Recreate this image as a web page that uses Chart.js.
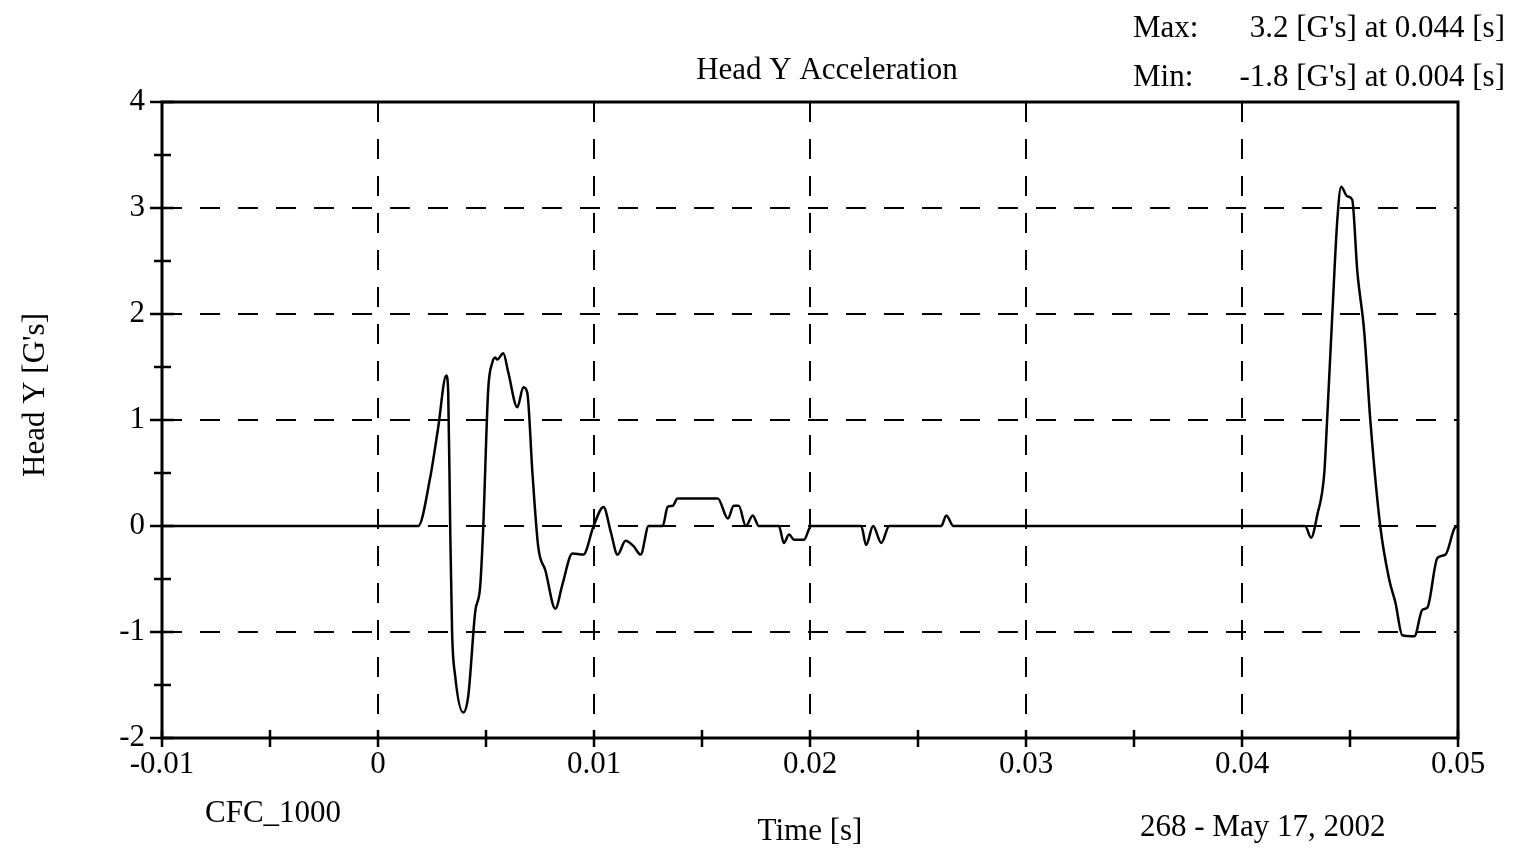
<!DOCTYPE html>
<html lang="en">
<head>
    <meta charset="UTF-8">
    <title>Head Y Acceleration</title>
    <script src="https://cdn.jsdelivr.net/npm/chart.js"></script>
    <style>
        body { margin: 0; background: #fff; }
        #wrap { width: 1525px; height: 851px; position: relative; }
    </style>
</head>
<body>
    <div id="wrap"><canvas id="headChart"></canvas></div>

    <script>
        // time in ms, acceleration in G's
        var timeMs = [-10, 1.86, 2.41, 2.78, 3.16, 3.25, 3.34, 3.43, 3.57, 3.94, 4.18, 4.5, 4.73, 4.87,
            5.1, 5.29, 5.43, 5.52, 5.8, 6.03, 6.45, 6.73, 6.91, 7.15, 7.42, 7.75, 8.21, 8.54, 9.0, 9.51,
            9.98, 10.44, 10.77, 11.09, 11.46, 11.83, 12.16, 12.53, 13.18, 13.41, 13.64, 13.87, 15.73,
            16.2, 16.47, 16.7, 17.03, 17.35, 17.63, 18.56, 18.79, 19.03, 19.26, 19.72, 20.05, 22.37,
            22.6, 22.92, 23.3, 23.67, 26.08, 26.31, 26.64, 42.92, 43.2, 43.48, 43.81, 43.94, 44.18,
            44.41, 44.59, 44.87, 45.1, 45.34, 45.66, 45.94, 46.4, 46.82, 47.1, 47.42, 47.98, 48.35,
            48.58, 49.05, 49.42, 49.84, 50.0];
        var accelG = [0, 0, 0.45, 0.92, 1.42, 1.27, 0.02, -1.0, -1.41, -1.76, -1.6, -0.81, -0.57, -0.02,
            1.28, 1.54, 1.59, 1.57, 1.63, 1.45, 1.12, 1.31, 1.26, 0.5, -0.2, -0.42, -0.78, -0.55, -0.26, -0.27,
            0, 0.18, -0.05, -0.27, -0.14, -0.19, -0.27, 0, 0, 0.18, 0.19, 0.26, 0.26,
            0.07, 0.19, 0.19, 0, 0.1, 0, 0, -0.16, -0.08, -0.13, -0.13, 0, 0,
            -0.18, 0, -0.16, 0, 0, 0.1, 0, 0, -0.11, 0.1, 0.5, 1.0, 1.99,
            2.88, 3.2, 3.11, 3.08, 2.4, 1.83, 1.0, 0, -0.51, -0.72, -1.03, -1.04, -0.79,
            -0.77, -0.3, -0.27, -0.02, 0];

        var xTicks = [-0.01, 0, 0.01, 0.02, 0.03, 0.04, 0.05];
        var yTicks = [-2, -1, 0, 1, 2, 3, 4];

        var chartTitle = 'Head Y Acceleration';
        var maxLine = ['Max:', "3.2 [G's] at 0.044 [s]"];
        var minLine = ['Min:', "-1.8 [G's] at 0.004 [s]"];
        var filterText = 'CFC_1000';
        var testText = '268 - May 17, 2002';
        var xTitle = 'Time [s]';
        var yTitle = "Head Y [G's]";

        var FONT = '31px "Liberation Serif", "Times New Roman", serif';

        var points = timeMs.map(function (t, i) { return { x: t / 1000, y: accelG[i] }; });

        // frame, crossing tick marks and the loose texts
        var decor = {
            id: 'decor',
            afterDraw: function (chart) {
                var c = chart.ctx, a = chart.chartArea;
                var xs = chart.scales.x, ys = chart.scales.y;
                c.save();
                c.strokeStyle = '#000';
                c.lineWidth = 3;
                c.strokeRect(a.left, a.top, a.right - a.left, a.bottom - a.top);

                c.lineWidth = 2.5;
                c.beginPath();
                for (var v = -0.01; v <= 0.0501; v += 0.005) {
                    var px = xs.getPixelForValue(v);
                    c.moveTo(px, a.bottom - 8);
                    c.lineTo(px, a.bottom + 9);
                }
                for (var w = -2; w <= 4.01; w += 0.5) {
                    var py = ys.getPixelForValue(w);
                    var major = Math.abs(w - Math.round(w)) < 1e-6;
                    c.moveTo(a.left - (major ? 12 : 8), py);
                    c.lineTo(a.left + (major ? 12 : 9), py);
                }
                c.stroke();

                c.fillStyle = '#000';
                c.font = FONT;
                c.textBaseline = 'alphabetic';
                c.textAlign = 'center';
                c.fillText(chartTitle, 827, 79);
                c.fillText(xTitle, 810, 840);
                c.textAlign = 'left';
                c.fillText(maxLine[0], 1133, 37);
                c.fillText(minLine[0], 1133, 86);
                c.fillText(filterText, 205, 822);
                c.fillText(testText, 1140, 836);
                c.textAlign = 'right';
                c.fillText(maxLine[1], 1505, 37);
                c.fillText(minLine[1], 1505, 86);

                c.translate(36, 395);
                c.rotate(-Math.PI / 2);
                c.textAlign = 'center';
                c.textBaseline = 'middle';
                c.fillText(yTitle, 0, 0);
                c.restore();
            }
        };

        var ctx = document.getElementById('headChart').getContext('2d');
        var headChart = new Chart(ctx, {
            type: 'line',
            data: {
                datasets: [{
                    label: 'Head Y',
                    data: points,
                    borderColor: '#000',
                    borderWidth: 2.5,
                    pointRadius: 0,
                    cubicInterpolationMode: 'monotone',
                    fill: false
                }]
            },
            options: {
                responsive: true,
                maintainAspectRatio: false,
                animation: false,
                layout: { padding: { top: 102, right: 67, bottom: 0, left: 0 } },
                plugins: {
                    legend: { display: false },
                    tooltip: { enabled: false },
                    title: { display: false }
                },
                scales: {
                    x: {
                        type: 'linear',
                        min: -0.01,
                        max: 0.05,
                        afterFit: function (s) { s.height = 113; },
                        afterBuildTicks: function (s) { s.ticks = xTicks.map(function (v) { return { value: v }; }); },
                        grid: { color: '#000', lineWidth: 2, drawTicks: false },
                        border: { display: false, dash: [20, 17] },
                        ticks: {
                            color: '#000',
                            padding: 8,
                            maxRotation: 0,
                            font: { family: '"Liberation Serif", "Times New Roman", serif', size: 31 },
                            callback: function (v) { return String(+Number(v).toFixed(2)); }
                        }
                    },
                    y: {
                        min: -2,
                        max: 4,
                        afterFit: function (s) { s.width = 162; },
                        afterBuildTicks: function (s) { s.ticks = yTicks.map(function (v) { return { value: v }; }); },
                        grid: { color: '#000', lineWidth: 2, drawTicks: false },
                        border: { display: false, dash: [20, 18] },
                        ticks: {
                            color: '#000',
                            padding: 17,
                            font: { family: '"Liberation Serif", "Times New Roman", serif', size: 31 },
                            callback: function (v) { return String(v); }
                        }
                    }
                }
            },
            plugins: [decor]
        });
    </script>
</body>
</html>
